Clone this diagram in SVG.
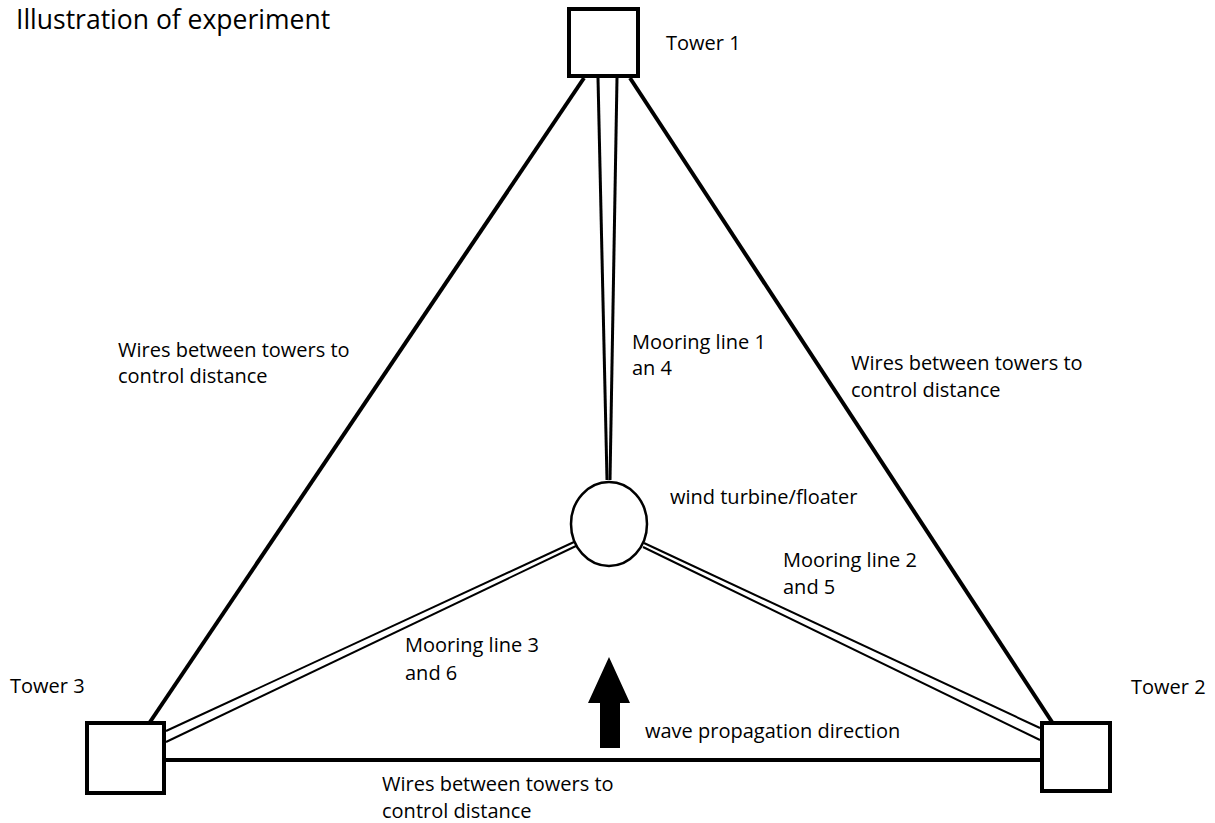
<svg xmlns="http://www.w3.org/2000/svg" width="1215" height="823" viewBox="0 0 1215 823">
<style>
text{font-family:"Open Sans","Liberation Sans",sans-serif;font-size:20px;fill:#000}
.tower{fill:#fff;stroke:#000;stroke-width:4}
.wire{stroke:#000;stroke-width:4;fill:none;stroke-linecap:butt}
.moor{stroke:#000;stroke-width:2;fill:none}
</style>
<rect width="1215" height="823" fill="#fff"/>
<text x="16" y="29" style="font-size:26.5px">Illustration of experiment</text>
<g id="connectors">
<line class="wire" x1="584" y1="78" x2="150" y2="722"/>
<line class="wire" x1="630" y1="78" x2="1052" y2="722"/>
<line class="wire" x1="166" y1="760" x2="1040" y2="760"/>
<line class="moor" x1="598" y1="78" x2="607" y2="480" style="stroke-width:3"/>
<line class="moor" x1="617" y1="78" x2="610" y2="480" style="stroke-width:3"/>
<line class="moor" x1="166" y1="731" x2="574" y2="542"/>
<line class="moor" x1="166" y1="742" x2="576" y2="546"/>
<line class="moor" x1="644" y1="543" x2="1040" y2="728"/>
<line class="moor" x1="643" y1="547" x2="1040" y2="740"/>
</g>
<g id="tower1"><rect class="tower" x="569" y="9" width="69" height="67"/><text x="666" y="50">Tower 1</text></g>
<g id="tower2"><rect class="tower" x="1042" y="723" width="68" height="68"/><text x="1131" y="694">Tower 2</text></g>
<g id="tower3"><rect class="tower" x="87" y="723" width="77" height="70"/><text x="10" y="693">Tower 3</text></g>
<g id="floater"><ellipse cx="609" cy="524" rx="38" ry="42" fill="#fff" stroke="#000" stroke-width="2.5"/><text x="670" y="504">wind turbine/floater</text></g>
<g id="arrow"><polygon points="609,657 630,703 620,703 620,748 600,748 600,703 588,703" fill="#000"/><text x="645" y="738">wave propagation direction</text></g>
<g id="labels">
<text x="118" y="357">Wires between towers to</text>
<text x="118" y="383">control distance</text>
<text x="632" y="349">Mooring line 1</text>
<text x="632" y="375">an 4</text>
<text x="851" y="370">Wires between towers to</text>
<text x="851" y="397">control distance</text>
<text x="783" y="567">Mooring line 2</text>
<text x="783" y="594">and 5</text>
<text x="405" y="652">Mooring line 3</text>
<text x="405" y="680">and 6</text>
<text x="382" y="791">Wires between towers to</text>
<text x="382" y="818">control distance</text>
</g>
</svg>
